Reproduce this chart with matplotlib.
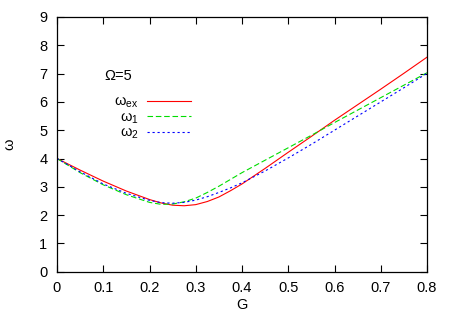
import matplotlib
matplotlib.use("Agg")
import matplotlib.pyplot as plt

plt.rcParams['font.family'] = ['Liberation Sans', 'DejaVu Sans']
plt.rcParams['mathtext.default'] = 'regular'

# G values and frequencies
G = [0.0, 0.05, 0.1, 0.15, 0.2, 0.225, 0.25, 0.275, 0.3, 0.325, 0.35, 0.375,
     0.4, 0.45, 0.5, 0.55, 0.6, 0.65, 0.7, 0.75, 0.8]
w_ex = [4.00, 3.59, 3.20, 2.85, 2.55, 2.43, 2.35, 2.33, 2.37, 2.48, 2.64, 2.86,
        3.10, 3.65, 4.22, 4.78, 5.35, 5.90, 6.45, 7.01, 7.58]
w_1 = [4.00, 3.50, 3.07, 2.72, 2.45, 2.38, 2.39, 2.47, 2.60, 2.80, 3.02, 3.26,
       3.50, 3.94, 4.38, 4.82, 5.27, 5.71, 6.15, 6.59, 7.03]
w_2 = [4.00, 3.53, 3.10, 2.77, 2.52, 2.44, 2.42, 2.45, 2.53, 2.65, 2.80, 2.96,
       3.14, 3.56, 4.02, 4.50, 5.00, 5.50, 6.00, 6.50, 7.01]

xticks = [0, 0.1, 0.2, 0.3, 0.4, 0.5, 0.6, 0.7, 0.8]
yticks = list(range(10))

fig = plt.figure(figsize=(4.52, 3.16), dpi=100)
ax = fig.add_axes([57 / 452, 1 - 271.7 / 316, 370 / 452, 254.7 / 316])

ax.plot(G, w_ex, color='#ff0000', lw=0.8, label='ω$_{ex}$')
ax.plot(G, w_1, color='#00dd00', lw=0.8, linestyle=(0, (5, 2.5)), label='ω$_{1}$')
ax.plot(G, w_2, color='#0000ff', lw=0.8, linestyle=(0, (2, 2.5)), label='ω$_{2}$')

ax.set_xlim(0, 0.8)
ax.set_ylim(0, 9)
ax.set_xticks(xticks)
ax.set_xticklabels(['0', '0.1', '0.2', '0.3', '0.4', '0.5', '0.6', '0.7', '0.8'])
ax.set_yticks(yticks)
ax.tick_params(direction='in', length=5, width=0.8, top=True, right=True,
               labelsize=10.5, pad=7)
for s in ax.spines.values():
    s.set_linewidth(0.9)

ax.set_xlabel('G', fontsize=10.5, labelpad=2)
ax.set_ylabel('ω', fontsize=10.5, labelpad=16)

ax.text(0.127, 0.77, 'Ω=5', transform=ax.transAxes, fontsize=10.5,
        ha='left', va='center')

ax.legend(loc='upper right', bbox_to_anchor=(0.362, 0.695), frameon=False,
          markerfirst=False, fontsize=10.5, handlelength=3.0, handletextpad=0.6,
          labelspacing=0.02, borderpad=0, borderaxespad=0)

fig.savefig('out.png', dpi=100)
